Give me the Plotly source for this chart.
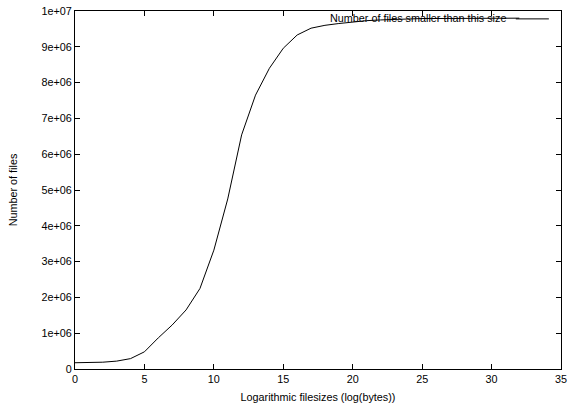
import plotly.graph_objects as go

# Data
log_sizes = [0, 1, 2, 3, 4, 5, 6, 7, 8, 9, 10, 11, 12, 13, 14, 15, 16, 17, 18,
             19, 20, 21, 22, 23, 24, 25, 26, 27, 28, 29, 30, 31, 32]
file_counts = [175000, 180000, 190000, 220000, 290000, 480000, 870000, 1230000,
               1650000, 2250000, 3320000, 4750000, 6540000, 7650000, 8400000,
               8960000, 9330000, 9520000, 9600000, 9650000, 9700000, 9730000,
               9750000, 9770000, 9780000, 9790000, 9790000, 9795000, 9795000,
               9800000, 9800000, 9800000, 9800000]

x_ticks = [0, 5, 10, 15, 20, 25, 30, 35]
y_ticks = [0, 1e6, 2e6, 3e6, 4e6, 5e6, 6e6, 7e6, 8e6, 9e6, 1e7]
y_tick_labels = ["0", "1e+06", "2e+06", "3e+06", "4e+06", "5e+06", "6e+06",
                 "7e+06", "8e+06", "9e+06", "1e+07"]
series_name = "Number of files smaller than this size"

FONT = "Liberation Sans, Arial, Helvetica, sans-serif"
FS = 10.8

fig = go.Figure()
fig.add_trace(go.Scatter(x=log_sizes, y=file_counts, mode="lines",
                         line=dict(color="black", width=1),
                         name=series_name, showlegend=False, hoverinfo="skip"))

axis_common = dict(showline=True, linecolor="black", linewidth=1,
                   mirror="allticks", ticks="inside", ticklen=5,
                   tickcolor="black", tickwidth=1, showgrid=False,
                   zeroline=False, automargin=False,
                   tickfont=dict(family=FONT, size=FS, color="black"))

fig.update_xaxes(range=[0, 35], tickvals=x_ticks,
                 title=dict(text="Logarithmic filesizes (log(bytes))",
                            font=dict(family=FONT, size=FS, color="black"),
                            standoff=9),
                 **axis_common)
fig.update_yaxes(range=[0, 1e7], tickvals=y_ticks, ticktext=y_tick_labels,
                 title=dict(text="Number of files",
                            font=dict(family=FONT, size=FS, color="black"),
                            standoff=21),
                 **axis_common)

# gnuplot-style key: text on the left, line sample on the right
fig.add_annotation(x=0.891, y=0.98, xref="paper", yref="paper",
                   text=series_name, showarrow=False, xanchor="right",
                   yanchor="middle",
                   font=dict(family=FONT, size=FS, color="black"))
fig.add_shape(type="line", xref="paper", yref="paper",
              x0=0.907, x1=0.975, y0=0.978, y1=0.978,
              line=dict(color="black", width=1))

fig.update_layout(width=568, height=405,
                  margin=dict(l=75, r=7, t=11, b=36),
                  paper_bgcolor="white", plot_bgcolor="white",
                  font=dict(family=FONT, size=FS, color="black"))

# remove the browser's default body margin so the figure fills the window
fig.write_html("out.html", config={"displayModeBar": False},
               post_script="document.body.style.margin='0';"
                           "document.body.style.overflow='hidden';")
